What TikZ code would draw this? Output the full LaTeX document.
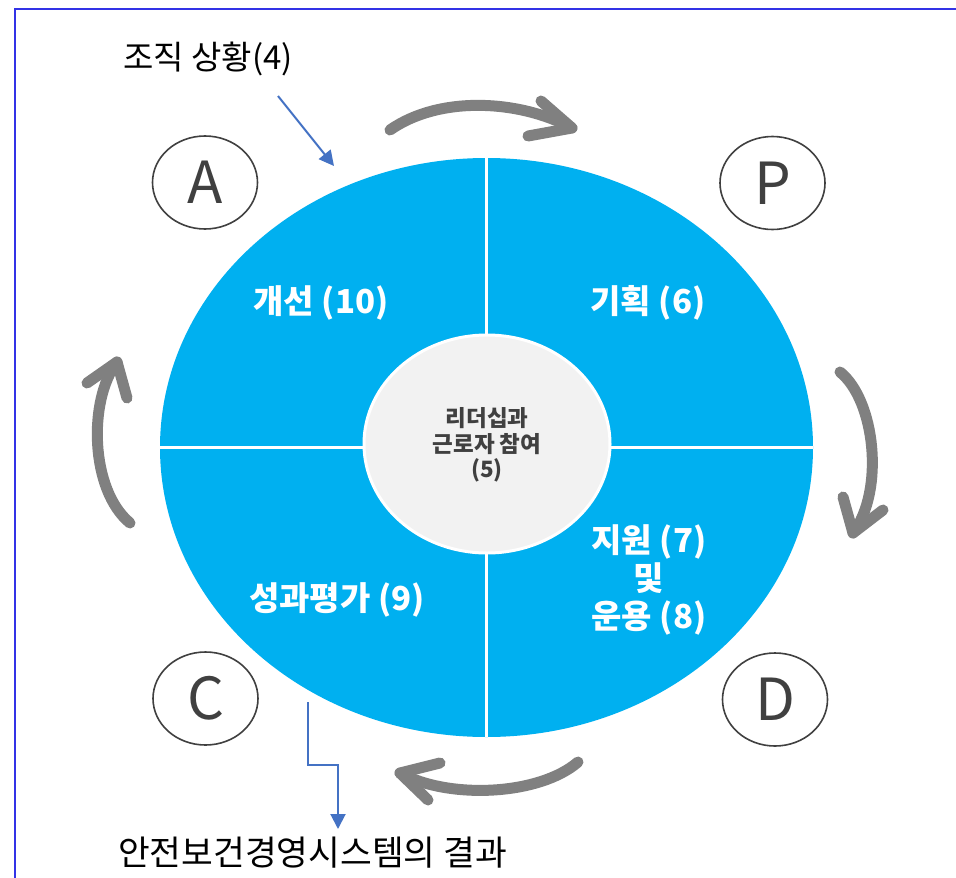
\documentclass[tikz,border=0pt]{standalone}
\usepackage{fontspec}
\setmainfont{Noto Sans CJK KR}
\usetikzlibrary{arrows.meta,shapes.geometric}
\definecolor{pblue}{HTML}{00B0F0}
\definecolor{innergray}{HTML}{F2F2F2}
\definecolor{dgray}{HTML}{404040}
\definecolor{agray}{HTML}{808080}
\definecolor{lblue}{HTML}{4472C4}
\definecolor{frameblue}{HTML}{3333E6}
\tikzset{
  letterbox/.style={ellipse, draw=dgray, line width=1.6pt, minimum width=105pt, minimum height=93pt, inner sep=0pt, text=dgray, font=\fontsize{58}{60}\selectfont},
  quadlabel/.style={text=white, font=\bfseries\fontsize{33}{38}\selectfont, align=center, inner sep=0pt},
  cyclearrow/.style={draw=agray, line width=11pt, line cap=round, line join=round},
  infoarrow/.style={draw=lblue, line width=2pt, -{Triangle[length=15pt,width=15pt]}},
  plaintext/.style={text=black, inner sep=0pt}
}
\begin{document}
\begin{tikzpicture}[x=1pt,y=-1pt]
\useasboundingbox (0,0) rectangle (956,878);
\fill[white] (0,0) rectangle (956,878);
\draw[frameblue, line width=1.3pt] (15,878) -- (15,9) -- (956,9);

% main ellipse
\node[ellipse, fill=pblue, minimum width=653pt, minimum height=579pt, inner sep=0pt] (main) at (486.5,447.5) {};
\draw[white, line width=3pt] (main.north) -- (main.south);
\draw[white, line width=3pt] (main.west) -- (main.east);
\node[ellipse, fill=innergray, draw=white, line width=3pt, minimum width=246pt, minimum height=218pt, inner sep=0pt] (lead) at (487,444) {};
\node[text=dgray, font=\bfseries\fontsize{22.5}{25.5}\selectfont, align=center] (leadtxt) at (487,445) {리더십과\\근로자 참여\\(5)};

% quadrant labels
\node[quadlabel] (act) at (321,303) {개선 (10)};
\node[quadlabel] (plan) at (648,303) {기획 (6)};
\node[quadlabel] (check) at (337,600) {성과평가 (9)};
\node[quadlabel] (do) at (649,580) {지원 (7)\\및\\운용 (8)};

% PDCA letters
\node[letterbox] (A) at (205,182.5) {A};
\node[letterbox] (P) at (772.5,183) {P};
\node[letterbox] (C) at (205.5,698.5) {C};
\node[letterbox] (D) at (775,699.5) {D};

% cycle arrows
\coordinate (t1) at (390,130); \coordinate (t2) at (572,128);
\draw[cyclearrow] (t1) .. controls (440,95) and (520,100) .. (t2);
\draw[cyclearrow] (541,101) -- (t2) -- (528,136);

\coordinate (r1) at (840,372); \coordinate (r2) at (853,533);
\draw[cyclearrow] (r1) .. controls (875,400) and (885,490) .. (r2);
\draw[cyclearrow] (843,497) -- (r2) -- (883,510);

\coordinate (b1) at (578,762); \coordinate (b2) at (400,773);
\draw[cyclearrow] (b1) .. controls (540,795) and (450,800) .. (b2);
\draw[cyclearrow] (440,763) -- (b2) -- (428,800);

\coordinate (l1) at (130,523); \coordinate (l2) at (117,362);
\draw[cyclearrow] (l1) .. controls (90,490) and (88,400) .. (l2);
\draw[cyclearrow] (87,383) -- (l2) -- (127,398);

% context and result
\node[plaintext, anchor=west, font=\fontsize{33}{36}\selectfont] (ctx) at (123,59) {조직 상황(4)};
\coordinate (ctxs) at (278,96);
\coordinate (ctxe) at (334,166);
\draw[infoarrow] (ctxs) -- (ctxe);

\node[plaintext, anchor=west, font=\fontsize{34.5}{36}\selectfont] (res) at (118,853) {안전보건경영시스템의 결과};
\coordinate (cs) at (308,702);
\coordinate (ce) at (338,829);
\draw[infoarrow] (cs) -- (308,765) -- (338,765) -- (ce);
\end{tikzpicture}
\end{document}
